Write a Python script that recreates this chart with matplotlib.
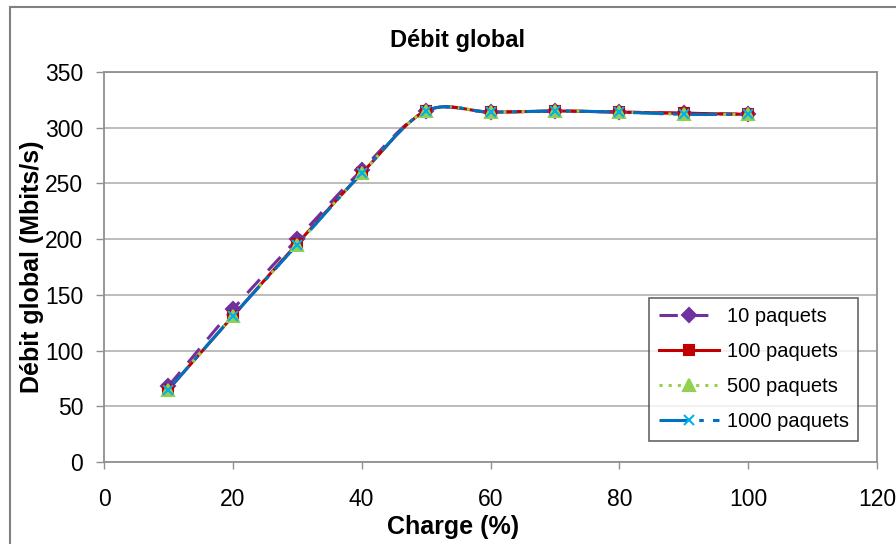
import numpy as np
import matplotlib
matplotlib.use("Agg")
import matplotlib.pyplot as plt
from matplotlib.patches import Rectangle

plt.rcParams['font.family'] = ['Liberation Sans', 'DejaVu Sans']

# data
charge = [10, 20, 30, 40, 50, 60, 70, 80, 90, 100]
debit_10 = [68, 137, 200, 262, 315, 314, 315, 314, 313, 312]
debit_100 = [65, 131, 196, 259, 315, 314, 315, 314, 313, 312]
debit_500 = [65, 131, 195, 259, 315, 314, 315, 314, 312, 312]
debit_1000 = [65, 131, 195, 259, 315, 314, 315, 314, 312, 312]
labels = ["10 paquets", "100 paquets", "500 paquets", "1000 paquets"]


def smooth(x, y, n=20):
    # Catmull-Rom curve through the points, like Excel's smoothed lines
    x = np.asarray(x, float)
    y = np.asarray(y, float)
    px = np.concatenate([[2 * x[0] - x[1]], x, [2 * x[-1] - x[-2]]])
    py = np.concatenate([[2 * y[0] - y[1]], y, [2 * y[-1] - y[-2]]])
    xs, ys = [], []
    t = np.linspace(0, 1, n)
    for i in range(1, len(px) - 2):
        for p, out in ((px, xs), (py, ys)):
            p0, p1, p2, p3 = p[i - 1], p[i], p[i + 1], p[i + 2]
            out.extend(0.5 * ((2 * p1) + (-p0 + p2) * t
                              + (2 * p0 - 5 * p1 + 4 * p2 - p3) * t ** 2
                              + (-p0 + 3 * p1 - 3 * p2 + p3) * t ** 3))
    return xs, ys


W, H = 896, 544
fig = plt.figure(figsize=(W / 100, H / 100), dpi=100)
# outer chart frame
fig.patches.append(Rectangle((10 / W, -0.05), 1.0, 1 - 7 / H + 0.05,
                             transform=fig.transFigure, fill=False,
                             edgecolor="#808080", linewidth=1.5))
ax = fig.add_axes([104 / W, 1 - 462 / H, 773 / W, 390 / H])

styles = [
    (debit_10, "#7030A0", (0, (6, 4)), "D", "#7030A0", 7),
    (debit_100, "#C00000", "-", "s", "#C00000", 7),
    (debit_500, "#92D050", (0, (1, 2)), "^", "#92D050", 8),
    (debit_1000, "#0070C0", (0, (10, 3, 1.5, 3)), "x", "#00B0F0", 7),
]
handles = []
for (vals, col, ls, mk, mcol, ms), lab in zip(styles, labels):
    sx, sy = smooth(charge, vals)
    ax.plot(sx, sy, color=col, linestyle=ls, linewidth=2.2, zorder=3)
    ax.plot(charge, vals, linestyle="none", marker=mk, markersize=ms,
            color=mcol, markeredgecolor=mcol, markeredgewidth=1.5, zorder=4)
    h, = ax.plot([], [], color=col, linestyle=ls, linewidth=2.2, marker=mk,
                 markersize=ms, markerfacecolor=mcol, markeredgecolor=mcol,
                 markeredgewidth=1.5)
    handles.append(h)

ax.set_xlim(0, 120)
ax.set_ylim(0, 350)
ax.set_xticks(range(0, 121, 20))
ax.set_yticks(range(0, 351, 50))
ax.yaxis.grid(True, color="#B0B0B0", linewidth=1.2)
ax.set_axisbelow(True)
for s in ax.spines.values():
    s.set_color("#909090")
    s.set_linewidth(1.3)
ax.tick_params(axis="y", direction="out", length=6, color="#909090", width=1,
               labelsize=16.5, pad=9)
ax.tick_params(axis="x", direction="out", length=5, color="#909090", width=1,
               labelsize=16.5, pad=14)

cx = (10 + W) / 2 / W
fig.text(cx + 0.005, 1 - 40 / H, "Débit global", fontsize=17,
         fontweight="bold", ha="center", va="center")
fig.text(cx, 1 - 527 / H, "Charge (%)", fontsize=18, fontweight="bold",
         ha="center", va="center")
fig.text(32 / W, 1 - 267 / H, "Débit global (Mbits/s)", fontsize=18,
         fontweight="bold", rotation=90, ha="center", va="center")

leg = ax.legend(handles, labels, loc="lower right",
                bbox_to_anchor=(0.9755, 0.055), frameon=True, fancybox=False,
                fontsize=14.5, handlelength=3.0, labelspacing=0.8,
                handletextpad=0.4, borderpad=0.45, borderaxespad=0)
leg.get_frame().set_edgecolor("#404040")
leg.get_frame().set_linewidth(1.2)

fig.savefig("out.png", dpi=100)
